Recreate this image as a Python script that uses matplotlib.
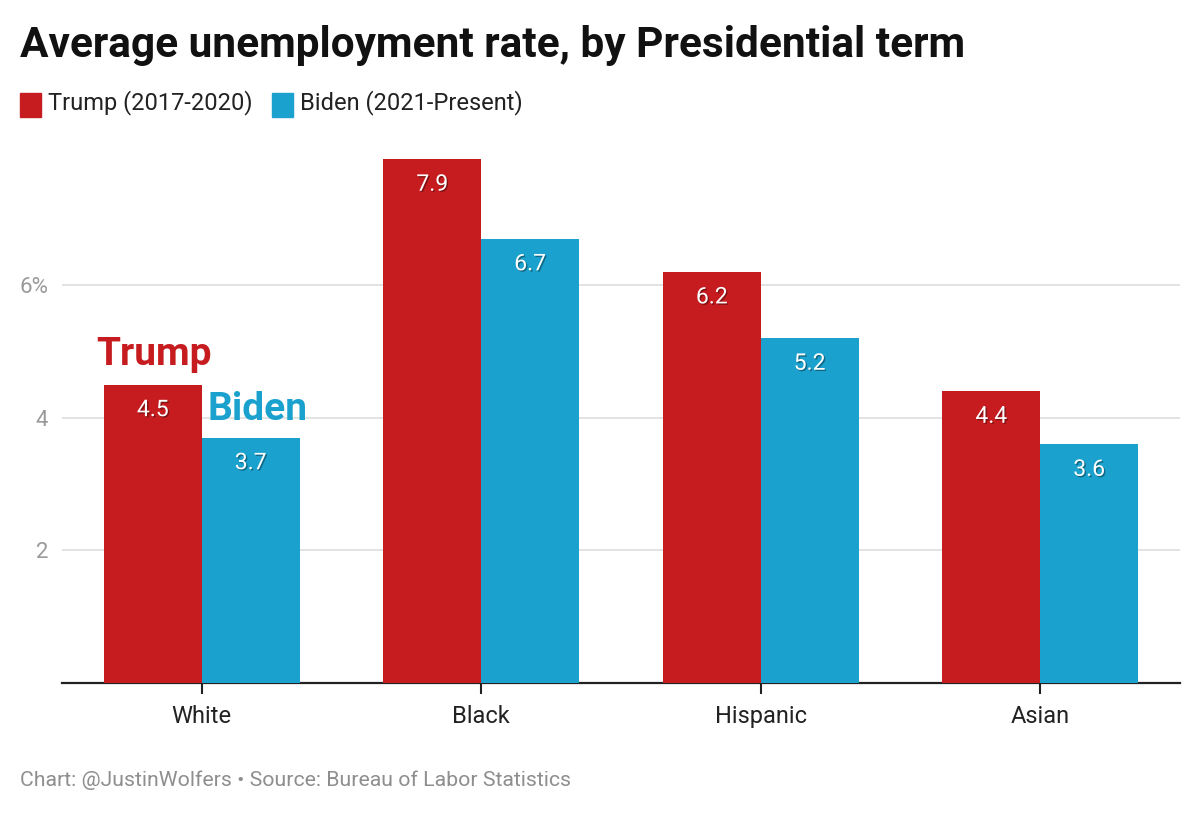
import matplotlib
matplotlib.use('Agg')
import matplotlib.pyplot as plt
import matplotlib.patheffects as pe
import numpy as np

plt.rcParams['font.family'] = ['Roboto', 'DejaVu Sans']

groups = ['White', 'Black', 'Hispanic', 'Asian']
trump = [4.5, 7.9, 6.2, 4.4]
biden = [3.7, 6.7, 5.2, 3.6]
yticks = [2, 4, 6]
ytick_labels = ['2', '4', '6%']

red = '#c71c1f'
blue = '#1aa1cd'

fig = plt.figure(figsize=(12, 8.13), dpi=100)
ax = fig.add_axes([62 / 1200, 130 / 813, 1118 / 1200, 543.7 / 813])

x = np.arange(len(groups))
w = 0.35
b1 = ax.bar(x - w / 2, trump, w, color=red, zorder=3)
b2 = ax.bar(x + w / 2, biden, w, color=blue, zorder=3)

# value labels inside the bar tops
shadow = [pe.withSimplePatchShadow(offset=(1, -1), shadow_rgbFace='black', alpha=0.35)]
for bars, vals in ((b1, trump), (b2, biden)):
    for rect, v in zip(bars, vals):
        t = ax.annotate(f'{v:.1f}', (rect.get_x() + rect.get_width() / 2, v),
                        xytext=(0, -25), textcoords='offset pixels',
                        ha='center', va='center', color='white', fontsize=16.5, zorder=4)
        t.set_path_effects(shadow)

# direct labels on the first group
ax.annotate('Trump', (x[0] - w / 2, trump[0]), xytext=(1, 12), textcoords='offset pixels',
            ha='center', va='bottom', color=red, fontsize=28, fontweight='bold')
ax.annotate('Biden', (x[0] + w / 2, biden[0]), xytext=(7, 10), textcoords='offset pixels',
            ha='center', va='bottom', color=blue, fontsize=28, fontweight='bold')

ax.set_xlim(-0.5, 3.5)
ax.set_ylim(0, 8.2)
ax.set_yticks(yticks)
ax.set_yticklabels(ytick_labels)
ax.set_xticks(x)
ax.set_xticklabels(groups)
ax.grid(axis='y', color='#e0e0e0', linewidth=1.3, zorder=0)
for s in ['top', 'right', 'left']:
    ax.spines[s].set_visible(False)
ax.spines['bottom'].set_color('#222222')
ax.spines['bottom'].set_linewidth(1.6)
ax.tick_params(axis='y', length=0, labelsize=16, labelcolor='#9a9a9a', pad=10)
ax.tick_params(axis='x', length=8, width=1.5, color='#222222', labelsize=17,
               labelcolor='#222222', pad=8)

fig.text(20 / 1200, 1 - 46 / 813, 'Average unemployment rate, by Presidential term',
         fontsize=30.5, fontweight='bold', color='#111111', va='center', ha='left')

# legend
fig.patches.append(plt.Rectangle((20 / 1200, 1 - 117 / 813), 21 / 1200, 24 / 813,
                                 transform=fig.transFigure, color=red))
fig.text(48 / 1200, 1 - 103 / 813, 'Trump (2017-2020)', fontsize=17, color='#222222',
         va='center', ha='left')
fig.patches.append(plt.Rectangle((272 / 1200, 1 - 117 / 813), 21 / 1200, 24 / 813,
                                 transform=fig.transFigure, color=blue))
fig.text(300 / 1200, 1 - 103 / 813, 'Biden (2021-Present)', fontsize=17, color='#222222',
         va='center', ha='left')

fig.text(20 / 1200, 1 - 780 / 813, 'Chart: @JustinWolfers \u2022 Source: Bureau of Labor Statistics',
         fontsize=15.3, color='#8e8e8e', va='center', ha='left')

fig.savefig('out.png', dpi=100, facecolor='white')
